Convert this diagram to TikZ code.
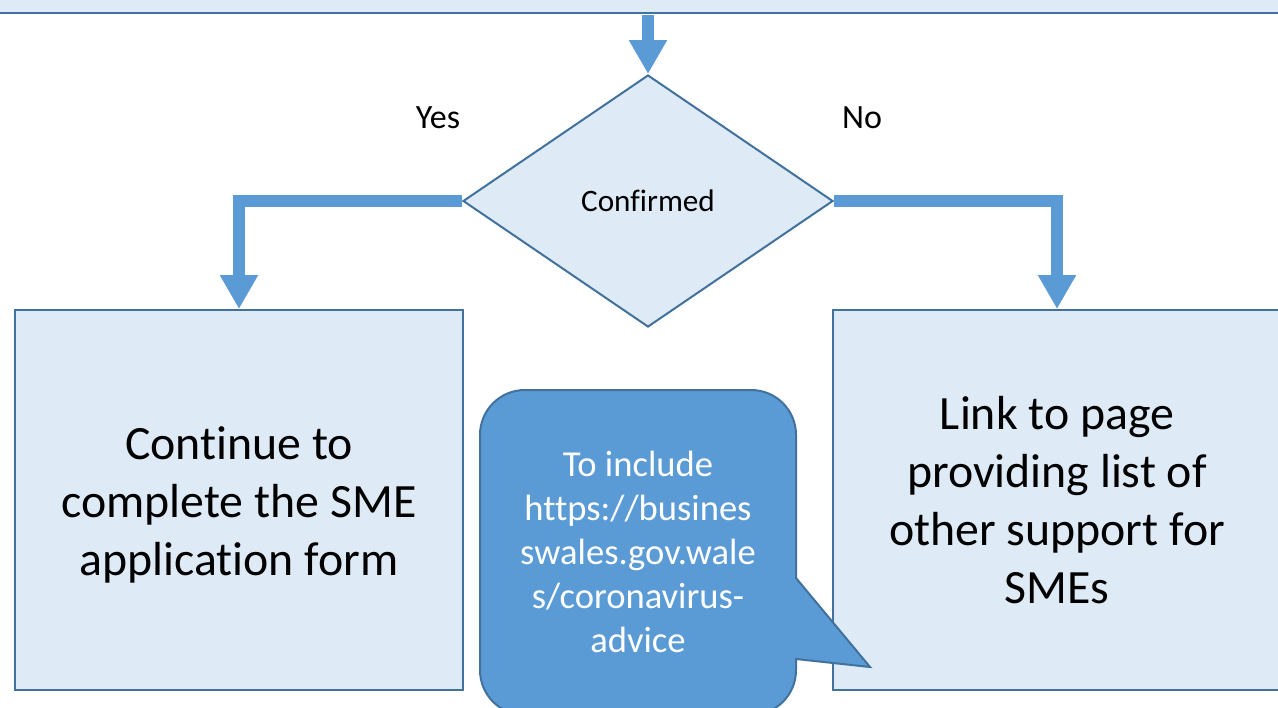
\documentclass[tikz,border=0pt]{standalone}
\usepackage{fontspec}
\setmainfont{Carlito}[Ligatures=NoCommon]
\usetikzlibrary{arrows.meta,shapes.geometric}
\definecolor{lightfill}{HTML}{DEEBF7}
\definecolor{edgeblue}{HTML}{41719C}
\definecolor{accent}{HTML}{5B9BD5}
\begin{document}
\begin{tikzpicture}[x=0.5pt,y=-0.5pt,
  procbox/.style={draw=edgeblue, line width=1pt, fill=lightfill, inner sep=0pt,
    minimum width=224pt, minimum height=190pt, align=center,
    font=\fontsize{23.9}{28.9}\selectfont},
  boxtext/.style={align=center, inner sep=0pt, font=\fontsize{23.9}{28.9}\selectfont},
  decision/.style={diamond, draw=edgeblue, line width=1pt, fill=lightfill, inner sep=0pt,
    minimum width=185pt, minimum height=126pt, font=\fontsize{15.6}{19}\selectfont},
  flowarrow/.style={draw=accent, line width=5.75pt, line join=miter,
    -{Triangle[width=18pt,length=17pt]}},
  ynlabel/.style={font=\fontsize{17}{20}\selectfont},
  notebody/.style={fill=accent, draw=edgeblue, line width=1pt},
  notetext/.style={text=white, align=center, font=\fontsize{18.3}{22}\selectfont}]
\useasboundingbox (0,0) rectangle (1278,707);
\clip (0,0) rectangle (1278,707);

% nodes
\node[procbox, minimum width=650pt, minimum height=27pt, line width=1.2pt] (top) at (640,-14) {};
\node[decision] (dec) at (648,201) {Confirmed};
\node[procbox] (yesbox) at (239,500) {};
\node[boxtext] (yestext) at (239,505) {Continue to\\complete the SME\\application form};
\node[procbox] (nobox) at (1057,500) {Link to page\\providing list of\\other support for\\SMEs};

\node[ynlabel] (yes) at (438,118) {Yes};
\node[ynlabel] (no) at (862,118) {No};

% connectors
\draw[flowarrow, shorten <=0.6pt] (top.south -| dec.north) -- (dec.north);
\draw[flowarrow] (dec.west) -| (yesbox.north);
\draw[flowarrow] (dec.east) -| (nobox.north);

% callout
\path[notebody] (525,390) -- (751,390) .. controls (776,390) and (796,410) .. (796,435)
  -- (796,578) -- (870,667) -- (796,659) -- (796,670)
  .. controls (796,695) and (776,715) .. (751,715) -- (525,715)
  .. controls (500,715) and (480,695) .. (480,670) -- (480,435)
  .. controls (480,410) and (500,390) .. (525,390) -- cycle;
\node[notetext] (note) at (638,552) {To include\\https://busines\\swales.gov.wale\\s/coronavirus-\\advice};
\end{tikzpicture}
\end{document}
